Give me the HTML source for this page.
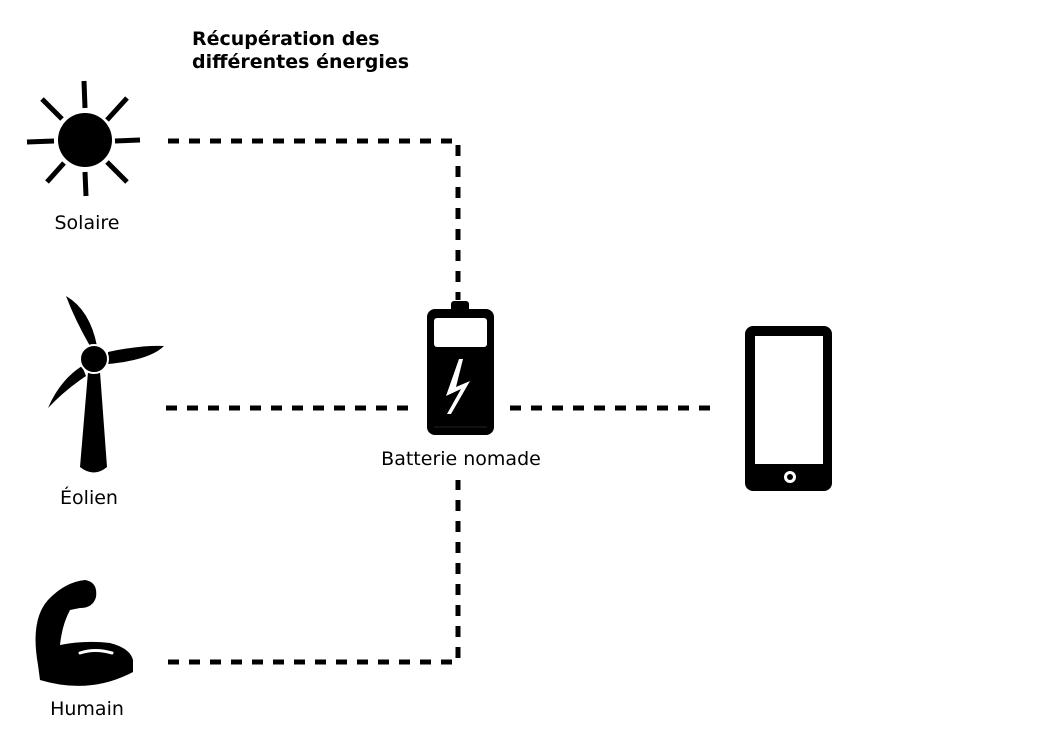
<!DOCTYPE html>
<html><head><meta charset="utf-8"><style>
body{margin:0;background:#fff;}
svg{display:block}
text{font-family:"DejaVu Sans","Liberation Sans",sans-serif;fill:#000}
</style></head><body>
<svg width="1053" height="745" viewBox="0 0 1053 745" xmlns="http://www.w3.org/2000/svg">
<g stroke="#000" stroke-width="5" fill="none" stroke-dasharray="11 10">
<path d="M168 141 H458 V300"/>
<path d="M166 408 H410"/>
<path d="M510 408 H720"/>
<path d="M168 662 H458 V480"/>
</g>
<text x="192" y="45" font-size="19" font-weight="bold">Récupération des</text>
<text x="192" y="68" font-size="19" font-weight="bold">différentes énergies</text>
<!-- sun -->
<circle cx="85" cy="140" r="27" fill="#000"/>
<g stroke="#000" stroke-width="5" stroke-linecap="butt">
<line x1="84" y1="81" x2="85" y2="108"/><line x1="85" y1="172" x2="86" y2="196"/>
<line x1="27" y1="142" x2="54" y2="141"/><line x1="115" y1="141" x2="140" y2="140"/>
<line x1="42" y1="99" x2="62" y2="119"/><line x1="107" y1="162" x2="127" y2="182"/>
<line x1="127" y1="98" x2="107" y2="120"/><line x1="47" y1="182" x2="64" y2="163"/>
</g>
<text x="87" y="229" font-size="19" text-anchor="middle">Solaire</text>
<!-- wind -->
<path d="M88 372 L100 372 L107 467 Q94 478 80 467 Z" fill="#000"/>
<path d="M90 346 Q75 320 66 296 Q90 310 97 346 Z" fill="#000"/>
<path d="M108 352 Q140 345 164 346 Q150 360 108 364 Z" fill="#000"/>
<path d="M82 366 Q60 380 48 408 Q65 390 86 376 Z" fill="#000"/>
<circle cx="94" cy="359" r="14" fill="#000" stroke="#fff" stroke-width="2"/>
<text x="89" y="504" font-size="19" text-anchor="middle">Éolien</text>
<!-- arm -->
<path d="M38 665 Q30 620 48 600 Q65 582 85 580 Q98 582 96 597 Q93 608 80 608 L70 610 Q62 625 60 645 Q85 640 110 643 Q130 648 133 660 L133 672 Q90 695 40 680 Z" fill="#000"/>
<path d="M80 653 Q95 648 112 653" stroke="#fff" stroke-width="3" fill="none" stroke-linecap="round"/>
<text x="87" y="715" font-size="19" text-anchor="middle">Humain</text>
<!-- battery -->
<rect x="451" y="301" width="18" height="12" rx="3" fill="#000"/>
<rect x="427" y="309" width="67" height="126" rx="8" fill="#000"/>
<rect x="434" y="318" width="53" height="29" rx="3" fill="#fff"/>
<path d="M459 359 L446 396 L461 389 L447 414 L451 414 L470 381 L456 387 L463 359 Z" fill="#fff"/>
<line x1="434" y1="427" x2="487" y2="427" stroke="#222" stroke-width="1"/>
<text x="461" y="465" font-size="19" text-anchor="middle">Batterie nomade</text>
<!-- phone -->
<rect x="745" y="326" width="87" height="165" rx="8" fill="#000"/>
<rect x="755" y="336" width="68" height="128" fill="#fff"/>
<circle cx="790" cy="477" r="6" fill="#fff"/>
<circle cx="790" cy="477" r="3" fill="#000"/>
</svg>
</body></html>
